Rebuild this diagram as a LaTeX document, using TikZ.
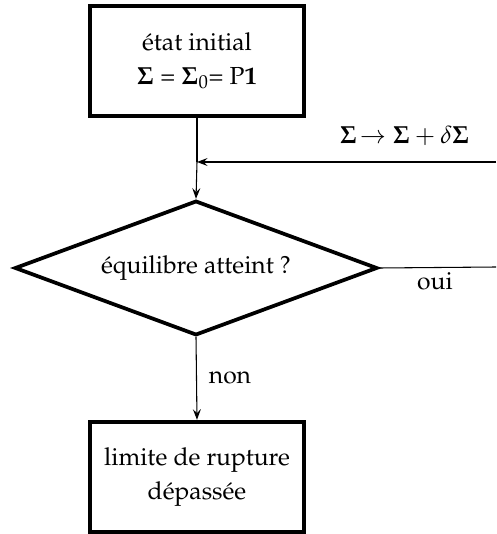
\documentclass[tikz,border=0pt]{standalone}
\usepackage[T1]{fontenc}
\usepackage{amsmath}
\usepackage{mathpazo}
\usepackage{tikz}
\usetikzlibrary{arrows.meta,shapes.geometric}

\begin{document}
\begin{tikzpicture}[x=0.75pt,y=-0.75pt,font=\fontsize{18.5}{25}\selectfont,
   etape/.style={rectangle,draw,line width=2.8pt,align=center,
     minimum width=160pt,minimum height=83pt,inner sep=0pt},
   test/.style={diamond,draw,line width=2.8pt,aspect=2.68,
     minimum width=272pt,minimum height=101pt,inner sep=0pt},
   fl/.style={line width=0.8pt,-{Stealth[length=8pt,width=6pt,inset=3pt]}}]
  \useasboundingbox (0,0) rectangle (496,534);
  % etat initial
  \node[etape] (init) at (197,61) {\'etat initial\\
    $\mathbf{\Sigma}$ = $\mathbf{\Sigma}_{0}$= P\textbf{1}};
  % test d'equilibre
  \node[test] (equil) at (196,268) {\'equilibre atteint ?};
  % rupture
  \node[etape] (rupt) at (197,477) {limite de rupture\\d\'epass\'ee};
  % increment de charge
  \coordinate (incr) at (496,162);
  \coordinate (join) at (197,162);
  \coordinate (ouifin) at (496,267);
  \draw[line width=0.8pt] (init.south) -- (join);
  \draw[fl] (join) -- (equil.north);
  \draw[fl] (incr) -- (join);
  \node[anchor=south east] (charge) at (474,150)
    {$\mathbf{\Sigma}\!\rightarrow \mathbf{\Sigma} + \delta\mathbf{\Sigma}$};
  \draw[line width=0.8pt] (equil.east) -- (ouifin);
  \node (oui) at (435,281) {oui};
  \draw[fl] (equil.south) -- (rupt.north);
  \node (non) at (230,378) {non};
\end{tikzpicture}
\end{document}
